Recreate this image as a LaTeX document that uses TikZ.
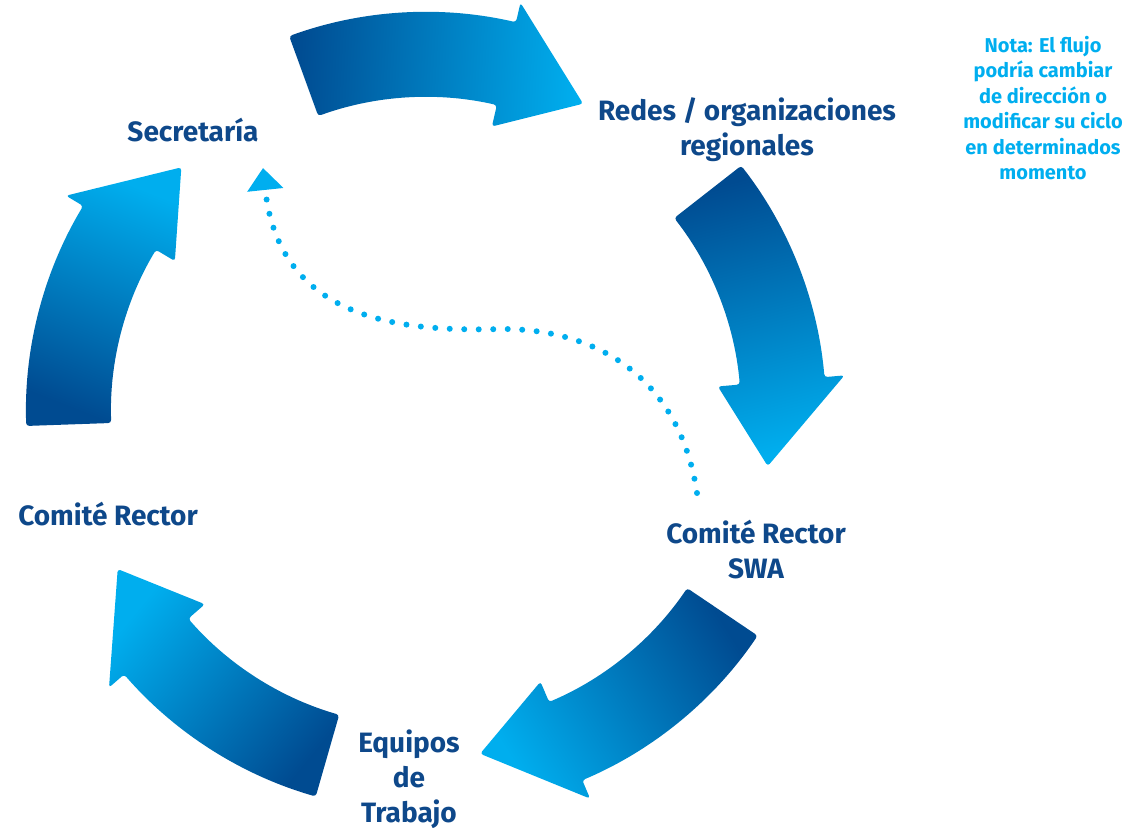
\documentclass[tikz,border=0pt]{standalone}
\usepackage{fontspec}
\setmainfont{Fira Sans}
\usetikzlibrary{arrows.meta, positioning}

\definecolor{swadark}{RGB}{0,75,145}
\definecolor{swalight}{RGB}{0,174,238}
\definecolor{swatext}{RGB}{14,72,138}
\definecolor{swanote}{RGB}{0,174,239}

\begin{document}
\begin{tikzpicture}[
    x=0.5pt, y=0.5pt,
    stage/.style={font=\fontsize{14}{17.5}\selectfont\bfseries, text=swatext, align=center, inner sep=0pt},
    notetext/.style={font=\fontsize{10}{12.75}\selectfont\bfseries, text=swanote, align=center, inner sep=0pt},
    bigarrow/.style={top color=swadark, bottom color=swalight, rounded corners=1.5pt},
    dotline/.style={swanote, line width=3pt, line cap=round, dash pattern=on 0pt off 7.25pt},
]
    \useasboundingbox (0,0) rectangle (1128,-828);

    % centre of the cycle
    \coordinate (cc) at (426,-412);

    % five curved arrows, clockwise
    \foreach \t in {110,38,-34,-106,-178} {
        \pgfmathsetmacro\h{\t-33}
        \pgfmathsetmacro\p{\t-47}
        \pgfmathsetmacro\s{\t-23.5}
        \shade[bigarrow, shading angle=\s, shift={(cc)}]
            (\t:400) arc[start angle=\t, end angle=\h, radius=400]
            -- (\h:420) -- (\p:346) -- (\h:293) -- (\h:315)
            arc[start angle=\h, end angle=\t, radius=315] -- cycle;
    }

    % stages
    \node[stage] (secretaria) at (193,-130) {Secretaría};
    \node[stage] (redes) at (747,-130) {Redes / organizaciones\\regionales};
    \node[stage] (swa) at (756,-550) {Comité Rector\\SWA};
    \node[stage] (equipos) at (409,-779) {Equipos\\de\\Trabajo};
    \node[stage] (rector) at (108,-514) {Comité Rector};

    % note
    \node[notetext] (nota) at (1043,-108) {Nota: El flujo\\podría cambiar\\de dirección o\\modificar su ciclo\\en determinados\\momento};

    % dotted return path
    \coordinate (dotstart) at (697,-493);
    \coordinate (dotend) at (263,-168);
    \draw[dotline, -{Triangle[length=11pt, width=17.5pt]}] (dotstart)
        .. controls (680,-380) and (600,-330) .. (505,-329)
        .. controls (420,-331) and (280,-330) .. (dotend);

\end{tikzpicture}
\end{document}
